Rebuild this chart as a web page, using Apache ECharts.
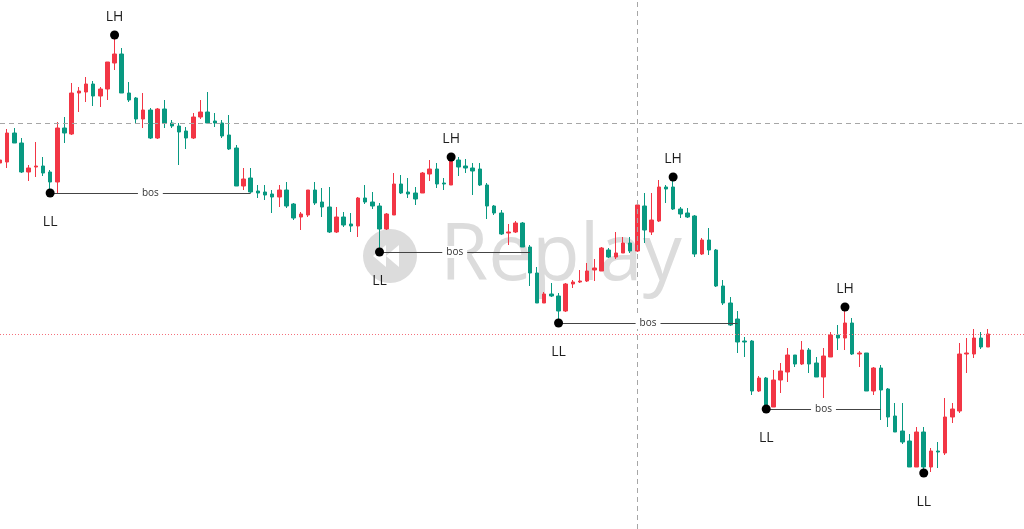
<!DOCTYPE html>
<html>
<head>
<meta charset="utf-8">
<script src="https://cdn.jsdelivr.net/npm/echarts@6/dist/echarts.min.js"></script>
<style>
html,body{margin:0;padding:0;background:#ffffff;}
#chart{width:1024px;height:529px;}
</style>
</head>
<body>
<div id="chart"></div>
<script>
// ---- data (price units) ----
const openP  = [437,438,467,457,428,433,434,428,418,472,466,507,508,516,504,511,537,546,507,502,481,490,462,491,477,474,469,462,483,488,479,477,465,452,414,422,409,408,406,403,410,396,383,385,410,398,393,368,383,376,374,402,398,394,371,385,416,408,407,407,426,431,417,415,440,434,432,431,415,394,387,367,368,377,353,327,297,306,304,289,316,318,319,330,329,350,343,347,357,349,394,368,379,413,413,391,387,384,346,360,350,314,297,281,259,259,209,222,193,220,228,245,236,250,237,223,243,265,262,277,246,247,209,232,211,184,169,159,133,168,133,149,147,183,189,246,246,262,253];
const closeP = [440,467,457,428,432,434,427,418,472,467,507,509,516,504,511,538,546,507,500,481,490,462,491,477,474,468,462,483,488,477,477,464,451,414,421,408,407,405,403,410,394,382,386,410,397,393,368,383,375,374,402,398,394,371,386,416,407,406,401,427,431,416,416,443,433,432,429,415,394,387,366,368,377,353,327,297,306,304,289,316,318,319,329,332,352,343,347,357,349,395,370,380,413,411,391,386,383,346,360,350,314,297,275,258,258,209,222,193,220,229,245,236,250,236,223,244,265,262,277,246,247,209,232,210,183,168,158,133,168,133,149,148,183,191,246,247,262,253,266];
const lowP   = [432,432,457,427,419,423,424,407,407,457,465,488,498,494,493,500,530,507,498,477,472,461,461,472,472,435,451,461,481,477,473,462,450,414,410,407,402,400,387,393,392,380,370,383,395,383,367,367,373,368,363,396,391,348,370,385,406,402,395,407,419,412,410,415,424,427,405,414,381,385,365,355,367,353,314,297,297,303,278,288,312,317,318,319,329,342,341,347,347,348,357,365,378,397,390,382,382,343,345,345,313,295,274,247,243,205,208,191,193,207,218,233,235,227,223,202,243,250,250,245,233,209,205,180,173,168,156,133,133,128,128,132,145,177,187,227,242,251,253];
const highP  = [445,471,472,462,435,458,443,430,478,483,517,513,523,519,513,538,562,552,518,503,507,492,492,500,480,477,473,487,500,508,487,480,485,455,432,432,415,415,410,415,418,397,388,410,418,412,413,393,388,387,403,415,408,397,387,427,425,422,413,428,440,437,422,444,443,441,437,437,417,395,390,376,379,378,355,333,308,317,307,317,320,330,337,341,353,352,368,363,363,398,407,407,420,415,422,393,392,385,362,372,351,320,303,289,263,260,224,223,230,237,252,245,259,252,243,252,268,275,293,282,249,247,233,235,212,197,197,166,173,173,152,158,202,197,257,262,271,268,271];

// empty bars kept to the right of the last candle
const rightPadBars = 5;

// swing points [candle index, price]
const pivotHighs = [[16,565],[63,443],[94,423],[118,293]];
const pivotLows  = [[7,407],[53,348],[78,277],[107,191],[129,127]];
// break-of-structure segments [from index, to index, price]
const bosSegments = [[7,35,407],[53,74,348],[78,103,277],[107,123,191]];
// reference levels
const crosshairIndex = 89;
const crosshairPrice = 477;
const currentPrice = 266;

const categories = [];
for (let i = 0; i < openP.length + rightPadBars; i++) categories.push(String(i));
const ohlc = openP.map((o, i) => [o, closeP[i], lowP[i], highP[i]]);

const UP = '#f23645', DOWN = '#089981';
const labelFont = 'Open Sans';

const markData = [
  { xAxis: crosshairIndex, lineStyle: { color: '#a6a6a6', type: [5, 4], width: 1 }, label: { show: false } },
  { yAxis: crosshairPrice, lineStyle: { color: '#a6a6a6', type: [5, 4], width: 1 }, label: { show: false } },
  { yAxis: currentPrice, lineStyle: { color: '#f4707c', type: [1, 2], width: 1 }, label: { show: false } }
];
bosSegments.forEach(s => {
  markData.push([
    { coord: [s[0], s[2]],
      lineStyle: { color: '#444444', width: 1.2, type: 'solid' },
      label: { show: true, formatter: 'bos', position: 'middle', distance: 0,
               verticalAlign: 'middle', align: 'center',
               color: '#333', fontSize: 10, fontFamily: labelFont,
               backgroundColor: '#ffffff', padding: [1, 4] } },
    { coord: [s[1], s[2]] }
  ]);
});

const chart = echarts.init(document.getElementById('chart'), null, { renderer: 'canvas' });
chart.setOption({
  animation: false,
  backgroundColor: '#ffffff',
  grid: { left: 0, right: 0, top: 0, bottom: 0 },
  xAxis: { type: 'category', data: categories, boundaryGap: false, show: false },
  yAxis: { type: 'value', min: 71, max: 600, show: false, splitLine: { show: false } },
  graphic: [{
    type: 'group', silent: true, z: 0,
    children: [
      { type: 'circle', shape: { cx: 390, cy: 256, r: 27 }, style: { fill: '#dcdcdc' } },
      { type: 'polygon', shape: { points: [[373, 256], [386, 245], [386, 267]] }, style: { fill: '#ffffff' } },
      { type: 'polygon', shape: { points: [[386, 256], [399, 245], [399, 267]] }, style: { fill: '#ffffff' } },
      { type: 'text', x: 440, y: 258,
        style: { text: 'Replay', fontSize: 78, fontFamily: 'Open Sans', fill: '#dcdcdc',
                 align: 'left', verticalAlign: 'middle' } }
    ]
  }],
  series: [
    {
      type: 'candlestick',
      data: ohlc,
      barWidth: 4,
      z: 3,
      itemStyle: { color: UP, color0: DOWN, borderColor: UP, borderColor0: DOWN, borderWidth: 1 },
      markLine: { silent: true, symbol: ['none', 'none'], animation: false, data: markData }
    },
    {
      type: 'scatter', data: pivotHighs, symbol: 'circle', symbolSize: 9, z: 5,
      itemStyle: { color: '#000000', opacity: 1 },
      label: { show: true, position: 'top', distance: 6, formatter: 'LH',
               color: '#1e1e1e', fontSize: 14, fontFamily: labelFont }
    },
    {
      type: 'scatter', data: pivotLows, symbol: 'circle', symbolSize: 9, z: 5,
      itemStyle: { color: '#000000', opacity: 1 },
      label: { show: true, position: 'bottom', distance: 18, formatter: 'LL',
               color: '#1e1e1e', fontSize: 14, fontFamily: labelFont }
    }
  ]
});
</script>
</body>
</html>
